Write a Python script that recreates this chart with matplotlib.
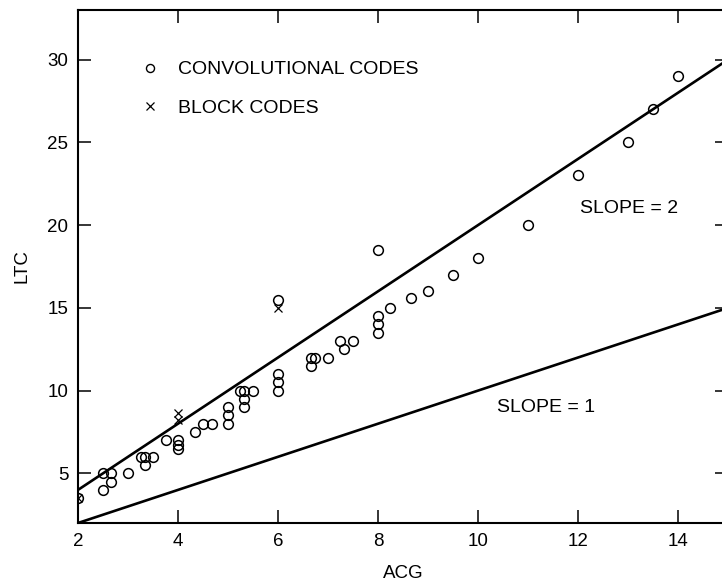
import matplotlib
matplotlib.use("Agg")
import matplotlib.pyplot as plt
from matplotlib.lines import Line2D

plt.rcParams['font.family'] = ['Liberation Sans', 'DejaVu Sans']

# Convolutional codes (ACG, LTC)
conv_acg = [2, 2.5, 2.5, 2.67, 2.67, 3, 3.25, 3.33, 3.33, 3.5, 3.75, 4, 4, 4,
            4.33, 4.5, 4.67, 5, 5, 5, 5.25, 5.33, 5.33, 5.33, 5.5, 6, 6, 6, 6,
            6.67, 6.75, 6.67, 7, 7.25, 7.33, 7.5, 8, 8, 8, 8, 8.25, 8.67, 9,
            9.5, 10, 11, 12, 13, 13.5, 14]
conv_ltc = [3.5, 5, 4, 5, 4.5, 5, 6, 6, 5.5, 6, 7, 7, 6.7, 6.5,
            7.5, 8, 8, 9, 8.5, 8, 10, 10, 9.5, 9, 10, 15.5, 11, 10.5, 10,
            12, 12, 11.5, 12, 13, 12.5, 13, 18.5, 14.5, 14, 13.5, 15, 15.6, 16,
            17, 18, 20, 23, 25, 27, 29]

# Block codes
block_acg = [2, 4, 4, 6]
block_ltc = [3.5, 8.65, 8.25, 15.0]

# Reference lines
line_x = [2, 15]
slopes = [2, 1]
slope_labels = ["SLOPE = 2", "SLOPE = 1"]
slope_label_pos = [(12.04, 21.0), (10.38, 8.95)]

legend_labels = ["CONVOLUTIONAL CODES", "BLOCK CODES"]

xticks = [2, 4, 6, 8, 10, 12, 14]
yticks = [5, 10, 15, 20, 25, 30]

W, H = 722, 585
fig = plt.figure(figsize=(W / 100, H / 100), dpi=100)
ax = fig.add_axes([78 / W, (H - 523) / H, 650 / W, 513 / H])

for s in slopes:
    ax.plot(line_x, [s * v for v in line_x], color='black', lw=1.9,
            solid_capstyle='butt')

ax.plot(conv_acg, conv_ltc, linestyle='none', marker='o', markersize=7.0,
        markerfacecolor='none', markeredgecolor='black', markeredgewidth=1.1)
ax.plot(block_acg, block_ltc, linestyle='none', marker='x', markersize=5.5,
        color='black', markeredgewidth=0.9)

for lab, (tx, ty) in zip(slope_labels, slope_label_pos):
    ax.text(tx, ty, lab, fontsize=14, va='center', ha='left')

handles = [
    Line2D([], [], linestyle='none', marker='o', markersize=5.8,
           markerfacecolor='none', markeredgecolor='black', markeredgewidth=1.0),
    Line2D([], [], linestyle='none', marker='x', markersize=5.5,
           color='black', markeredgewidth=0.9),
]
ax.legend(handles, legend_labels, loc='upper left',
          bbox_to_anchor=(0.0963, 0.901), frameon=False, fontsize=14,
          handlelength=1.0, handletextpad=0.9, labelspacing=1.06,
          borderpad=0, borderaxespad=0)

ax.set_xlim(2, 15)
ax.set_ylim(2, 33)
ax.set_xticks(xticks)
ax.set_yticks(yticks)
ax.tick_params(direction='in', length=9.5, width=1.1, labelsize=13.5,
               top=True, right=True, pad=7)
for sp in ax.spines.values():
    sp.set_linewidth(1.5)

ax.set_xlabel("ACG", fontsize=13.5, labelpad=11)
ax.set_ylabel("LTC", fontsize=13.5, labelpad=12)

fig.savefig("out.png", dpi=100)
